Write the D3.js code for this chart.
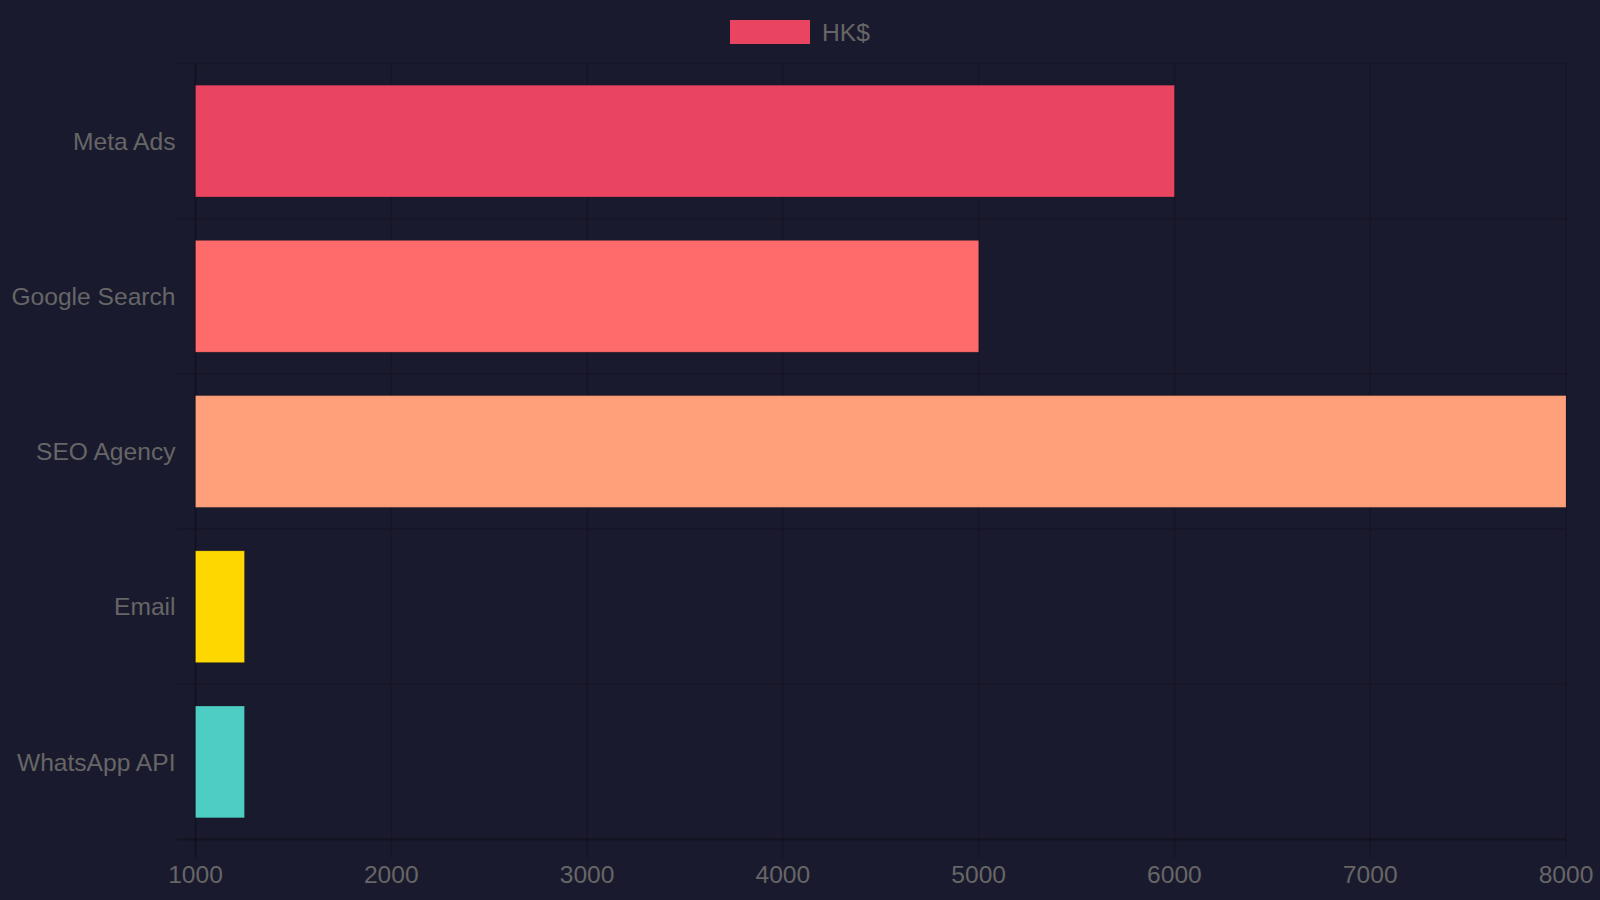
<!DOCTYPE html>
<html lang="en">
<head>
    <meta charset="UTF-8">
    <title>Channel Cost (HK$)</title>
    <style>
        body {
            margin: 0;
            background-color: #1a1a2e;
            font-family: "Liberation Sans", Arial, sans-serif;
        }
        svg { display: block; }
    </style>
</head>
<body>
    <svg></svg>

    <script src="https://d3js.org/d3.v7.min.js"></script>
    <script>
        // data
        const channels = ["Meta Ads", "Google Search", "SEO Agency", "Email", "WhatsApp API"];
        const costs = [6000, 5000, 8000, 1250, 1250];
        const barColors = ["#e94560", "#ff6b6b", "#ffa07a", "#ffd700", "#4ecdc4"];
        const xTicks = [1000, 2000, 3000, 4000, 5000, 6000, 7000, 8000];
        const seriesName = "HK$";

        const W = 1600, H = 900;
        const plot = { left: 195.5, right: 1566, top: 63.5, bottom: 839.5 };
        const tickLen = 19;
        const gridColor = "rgba(0,0,0,0.12)";
        const axisColor = "rgba(0,0,0,0.28)";
        const textColor = "#666666";
        const fontSize = "24.6px";

        const svg = d3.select("svg")
            .attr("width", W)
            .attr("height", H);

        svg.append("rect")
            .attr("width", W)
            .attr("height", H)
            .attr("fill", "#1a1a2e");

        const x = d3.scaleLinear()
            .domain([xTicks[0], xTicks[xTicks.length - 1]])
            .range([plot.left, plot.right]);

        const y = d3.scaleBand()
            .domain(channels)
            .range([plot.top, plot.bottom])
            .paddingInner(0.28)
            .paddingOuter(0.14);

        const step = y.step();
        const bandEdges = d3.range(channels.length + 1).map(i => plot.top + i * step);

        // vertical grid lines (with tick marks below the axis)
        svg.append("g")
            .selectAll("line")
            .data(xTicks)
            .join("line")
            .attr("x1", d => x(d))
            .attr("x2", d => x(d))
            .attr("y1", plot.top)
            .attr("y2", plot.bottom + tickLen)
            .attr("stroke", (d, i) => i === 0 ? axisColor : gridColor)
            .attr("stroke-width", 2);

        // horizontal grid lines at the category band edges
        svg.append("g")
            .selectAll("line")
            .data(bandEdges)
            .join("line")
            .attr("x1", plot.left - tickLen)
            .attr("x2", plot.right)
            .attr("y1", d => d)
            .attr("y2", d => d)
            .attr("stroke", (d, i) => i === bandEdges.length - 1 ? axisColor : gridColor)
            .attr("stroke-width", 2);

        // bars
        svg.append("g")
            .selectAll("rect")
            .data(channels)
            .join("rect")
            .attr("x", x(xTicks[0]))
            .attr("y", d => y(d))
            .attr("width", (d, i) => x(costs[i]) - x(xTicks[0]))
            .attr("height", y.bandwidth())
            .attr("fill", (d, i) => barColors[i])
            .attr("stroke", "rgba(0,0,0,0.15)")
            .attr("stroke-width", 1);

        // category labels
        svg.append("g")
            .selectAll("text")
            .data(channels)
            .join("text")
            .attr("x", plot.left - 20)
            .attr("y", d => y(d) + y.bandwidth() / 2)
            .attr("dy", "0.35em")
            .attr("text-anchor", "end")
            .attr("fill", textColor)
            .style("font-size", fontSize)
            .text(d => d);

        // value axis labels
        svg.append("g")
            .selectAll("text")
            .data(xTicks)
            .join("text")
            .attr("x", d => x(d))
            .attr("y", 874)
            .attr("dy", "0.35em")
            .attr("text-anchor", "middle")
            .attr("fill", textColor)
            .style("font-size", fontSize)
            .text(d => d);

        // legend
        const legend = svg.append("g");
        legend.append("rect")
            .attr("x", 730)
            .attr("y", 20)
            .attr("width", 80)
            .attr("height", 24)
            .attr("fill", barColors[0]);
        legend.append("text")
            .attr("x", 822)
            .attr("y", 32)
            .attr("dy", "0.35em")
            .attr("fill", textColor)
            .style("font-size", fontSize)
            .text(seriesName);
    </script>
</body>
</html>
